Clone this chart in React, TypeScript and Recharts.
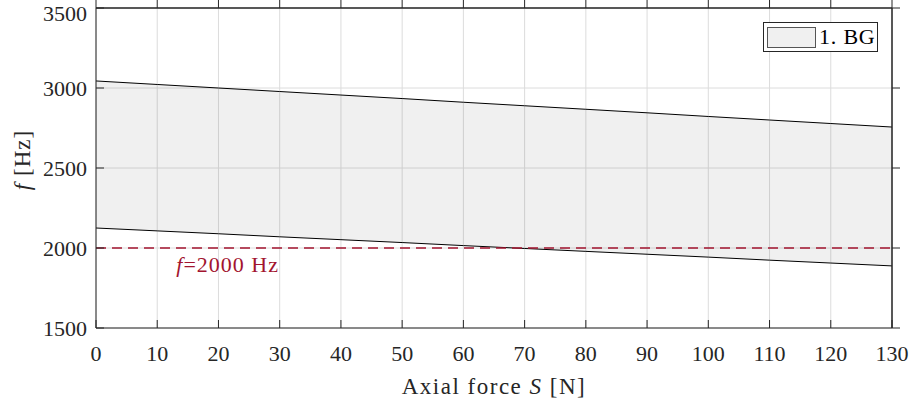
import {
  ComposedChart,
  Area,
  Line,
  XAxis,
  YAxis,
  CartesianGrid,
  ReferenceLine,
} from "recharts";

const force = [0, 10, 20, 30, 40, 50, 60, 70, 80, 90, 100, 110, 120, 130];
const upperF = [3044, 3022, 3000, 2978, 2956, 2934, 2911, 2889, 2867, 2845, 2822, 2800, 2778, 2756];
const lowerF = [2125, 2107, 2089, 2070, 2052, 2034, 2015, 1997, 1979, 1961, 1943, 1924, 1906, 1888];

const xTicks = [0, 10, 20, 30, 40, 50, 60, 70, 80, 90, 100, 110, 120, 130];
const yTicks = [1500, 2000, 2500, 3000, 3500];
const limitF = 2000;

const data = force.map((s, i) => ({ s, upper: upperF[i], lower: lowerF[i] }));

const FONT = "Liberation Serif";
const FS = 22;
const AXIS = "#262626";
const RED = "#a2142f";

const NoLabel = () => <g />;

const LimitLabel = ({ viewBox }: any) => {
  if (!viewBox) return null;
  const x = viewBox.x + (21.5 / 130) * viewBox.width;
  return (
    <text
      x={x}
      y={viewBox.y + 24}
      textAnchor="middle"
      fill={RED}
      style={{ fontFamily: FONT, fontSize: FS, letterSpacing: 1 }}
    >
      <tspan fontStyle="italic">f</tspan>=2000 Hz
    </text>
  );
};

const BandLegend = () => (
  <div
    style={{
      position: "absolute",
      left: 763,
      top: 22,
      width: 113,
      height: 28,
      border: "1.5px solid #262626",
      background: "#fff",
      display: "flex",
      alignItems: "center",
      fontFamily: FONT,
      fontSize: FS,
      letterSpacing: 0.8,
      whiteSpace: "nowrap",
      color: "#000",
      boxSizing: "content-box",
    }}
  >
    <span
      style={{
        display: "inline-block",
        flexShrink: 0,
        width: 47,
        height: 19,
        marginLeft: 3,
        marginRight: 3,
        background: "#f0f0f0",
        border: "1px solid #555",
      }}
    />
    <span>1. BG</span>
  </div>
);

export default function App() {
  return (
    <div style={{ position: "relative", width: 913, height: 400, fontFamily: FONT }}>
      <style>{`body{margin:0;} svg text{font-family:"Liberation Serif";}`}</style>
      <ComposedChart
        width={913}
        height={400}
        data={data}
        margin={{ top: 7, right: 20, bottom: 0, left: 0 }}
      >
        <CartesianGrid stroke="#dcdcdc" strokeWidth={1} />
        <XAxis
          dataKey="s"
          type="number"
          domain={[0, 130]}
          ticks={xTicks}
          height={72}
          stroke={AXIS}
          tickSize={-8}
          tickMargin={25}
          tick={{ fill: "#262626", fontSize: FS }}
          label={({ viewBox }: any) => (
            <text
              x={viewBox.x + viewBox.width / 2}
              y={394}
              textAnchor="middle"
              fill="#262626"
              style={{ fontFamily: FONT, fontSize: 23, letterSpacing: 1.5 }}
            >
              Axial force <tspan fontStyle="italic">S</tspan> [N]
            </text>
          )}
        />
        <XAxis
          xAxisId="top"
          orientation="top"
          dataKey="s"
          type="number"
          domain={[0, 130]}
          ticks={xTicks}
          height={1}
          stroke={AXIS}
          tickSize={8}
          tick={NoLabel}
        />
        <YAxis
          type="number"
          domain={[1500, 3500]}
          ticks={yTicks}
          width={96}
          stroke={AXIS}
          tickSize={-8}
          tickMargin={17}
          tick={{ fill: "#262626", fontSize: FS }}
          label={() => (
            <text
              x={0}
              y={0}
              transform="translate(30,160) rotate(-90)"
              textAnchor="middle"
              fill="#262626"
              style={{ fontFamily: FONT, fontSize: 23, letterSpacing: 1 }}
            >
              <tspan fontStyle="italic">f</tspan> [Hz]
            </text>
          )}
        />
        <YAxis
          yAxisId="right"
          orientation="right"
          type="number"
          domain={[1500, 3500]}
          ticks={yTicks}
          width={1}
          stroke={AXIS}
          tickSize={8}
          tick={NoLabel}
        />
        <Area
          dataKey={(d: any) => [d.lower, d.upper]}
          type="linear"
          stroke="none"
          fill="#000"
          fillOpacity={0.06}
          isAnimationActive={false}
        />
        <Line
          xAxisId="top"
          yAxisId="right"
          dataKey="upper"
          stroke="none"
          dot={false}
          activeDot={false}
          isAnimationActive={false}
        />
        <Line dataKey="upper" type="linear" stroke="#000" strokeWidth={1} dot={false} isAnimationActive={false} />
        <Line dataKey="lower" type="linear" stroke="#000" strokeWidth={1} dot={false} isAnimationActive={false} />
        <ReferenceLine
          y={limitF}
          stroke={RED}
          strokeWidth={1.5}
          strokeDasharray="10 6"
          label={<LimitLabel />}
        />
        <ReferenceLine y={3500} stroke={AXIS} strokeWidth={1} />
        <ReferenceLine x={130} stroke={AXIS} strokeWidth={1} />
      </ComposedChart>
      <BandLegend />
    </div>
  );
}
